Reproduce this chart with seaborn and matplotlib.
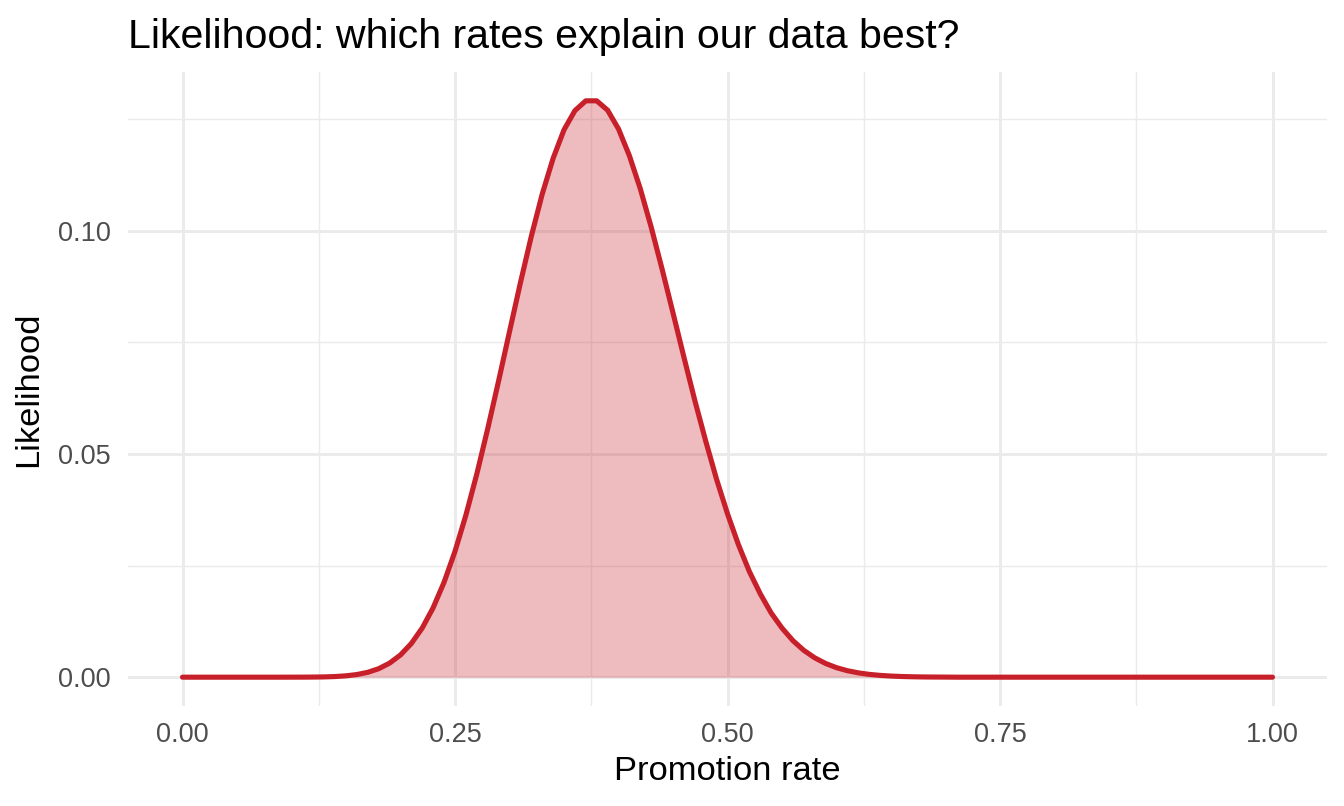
import numpy as np
import pandas as pd
import matplotlib
matplotlib.use("Agg")
import matplotlib.pyplot as plt
import seaborn as sns

# grid of promotion rates, 0.00 .. 1.00 by 0.01
promo_rate = np.round(np.linspace(0, 1, 101), 2)

# likelihood (0.00-0.09 and 0.71-1.00 are flat at zero)
lik_low = [0.0] * 10
lik_mid = [0.000003, 0.00001, 0.000025, 0.00006, 0.000144, 0.000303, 0.000593, 0.00109, 0.0019, 0.00315,
           0.00498, 0.00756, 0.01104, 0.01558, 0.02128, 0.02818, 0.0363, 0.0455, 0.05563, 0.06636,
           0.07739, 0.08833, 0.09874, 0.1082, 0.1162, 0.1226, 0.1269, 0.1291, 0.1291, 0.127,
           0.1228, 0.1168, 0.1094, 0.1008, 0.0914, 0.0816, 0.0717, 0.062, 0.0529, 0.0443,
           0.0366, 0.0297, 0.0237, 0.0187, 0.0144, 0.011, 0.00819, 0.00601, 0.00434, 0.00307,
           0.00213, 0.00145, 0.00097, 0.00063, 0.0004, 0.00025, 0.00015, 0.00009, 0.00005, 0.00003,
           0.00002]
lik_high = [0.0] * 30
likelihood = lik_low + lik_mid + lik_high

df = pd.DataFrame({"rate": promo_rate, "lik": likelihood})

red = "#C8202A"
grid_col = "#EBEBEB"
txt_col = "#4D4D4D"

sns.set_style("white")
plt.rcParams["font.family"] = ["Liberation Sans", "DejaVu Sans"]

fig = plt.figure(figsize=(13.44, 8.06), dpi=100)
W, H = 1344, 806
left, right, top, bottom = 128, 1327, 72, 706
ax = fig.add_axes([left / W, 1 - bottom / H, (right - left) / W, (bottom - top) / H])

ymax = max(likelihood)
ax.set_xlim(-0.05, 1.05)
ax.set_ylim(-0.05 * ymax, 1.05 * ymax)

ax.set_xticks([0, 0.25, 0.5, 0.75, 1.0])
ax.set_xticklabels(["0.00", "0.25", "0.50", "0.75", "1.00"])
ax.set_xticks([0.125, 0.375, 0.625, 0.875], minor=True)
ax.set_yticks([0, 0.05, 0.10])
ax.set_yticklabels(["0.00", "0.05", "0.10"])
ax.set_yticks([0.025, 0.075, 0.125], minor=True)

ax.grid(which="major", color=grid_col, linewidth=2.1)
ax.grid(which="minor", color=grid_col, linewidth=1.05)
ax.set_axisbelow(True)
for s in ax.spines.values():
    s.set_visible(False)
ax.tick_params(which="both", length=0)
ax.tick_params(axis="x", labelsize=19.5, labelcolor=txt_col, pad=11.5)
ax.tick_params(axis="y", labelsize=19.5, labelcolor=txt_col, pad=12.5)

ax.fill_between(df["rate"], df["lik"], 0, color=red, alpha=0.3, linewidth=0, zorder=2)
sns.lineplot(data=df, x="rate", y="lik", ax=ax, color=red, linewidth=3.7, zorder=3)

ax.set_xlabel("Promotion rate", fontsize=24.8, color="black", labelpad=6)
ax.set_ylabel("Likelihood", fontsize=24.8, color="black", labelpad=10)

fig.text(left / W, 1 - 47.5 / H, "Likelihood: which rates explain our data best?",
         fontsize=29.6, color="black", ha="left", va="baseline")

fig.savefig("out.png", dpi=100, facecolor="white")
